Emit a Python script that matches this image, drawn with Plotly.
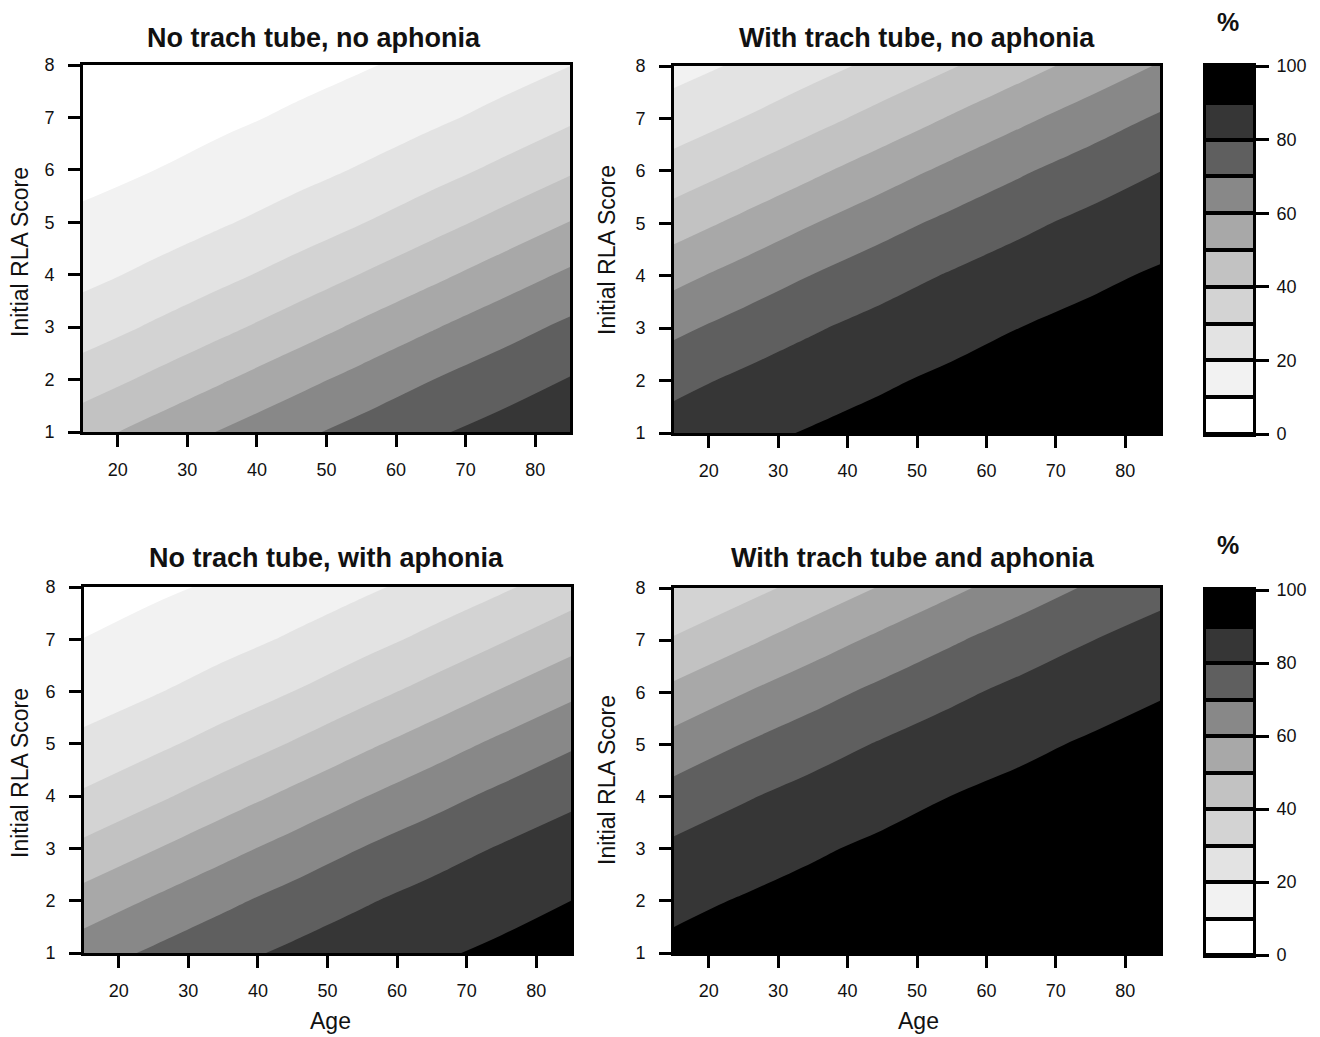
import plotly.graph_objects as go

# Axes grid (age in years, initial RLA score)
ages = [15, 25, 35, 45, 55, 65, 75, 85]
rla = [1, 2, 3, 4, 5, 6, 7, 8]

pct_no_trach_no_aphonia = [
    [46.3, 53.6, 60.7, 67.4, 73.4, 78.7, 83.2, 86.9],
    [35.0, 41.9, 49.1, 56.3, 63.3, 69.8, 75.5, 80.5],
    [25.2, 31.1, 37.6, 44.6, 51.9, 59.1, 65.9, 72.1],
    [17.4, 22.0, 27.4, 33.5, 40.3, 47.4, 54.7, 61.7],
    [11.6, 15.0, 19.1, 23.9, 29.6, 36.0, 43.0, 50.2],
    [7.6, 9.9, 12.8, 16.4, 20.8, 26.0, 32.0, 38.7],
    [4.9, 6.4, 8.4, 11.0, 14.1, 18.0, 22.7, 28.3],
    [3.1, 4.1, 5.4, 7.1, 9.3, 12.1, 15.5, 19.8],
]
pct_trach_no_aphonia = [
    [84.4, 87.9, 90.7, 92.9, 94.5, 95.9, 96.9, 97.6],
    [77.2, 81.9, 85.8, 89.0, 91.6, 93.6, 95.1, 96.3],
    [67.9, 73.9, 79.1, 83.5, 87.2, 90.1, 92.4, 94.2],
    [57.0, 63.9, 70.3, 76.0, 80.9, 85.0, 88.4, 91.0],
    [45.3, 52.5, 59.7, 66.5, 72.6, 78.0, 82.6, 86.4],
    [34.1, 40.9, 48.1, 55.3, 62.4, 68.9, 74.8, 79.9],
    [24.4, 30.2, 36.6, 43.6, 50.9, 58.1, 64.9, 71.3],
    [16.8, 21.3, 26.6, 32.6, 39.3, 46.4, 53.7, 60.8],
]
pct_no_trach_aphonia = [
    [65.3, 71.5, 77.1, 81.8, 85.7, 88.9, 91.5, 93.5],
    [54.0, 61.1, 67.8, 73.8, 79.0, 83.4, 87.1, 90.0],
    [42.3, 49.5, 56.8, 63.7, 70.2, 75.9, 80.8, 84.9],
    [31.4, 38.0, 45.1, 52.3, 59.5, 66.3, 72.4, 77.9],
    [22.3, 27.7, 33.9, 40.7, 47.9, 55.1, 62.2, 68.7],
    [15.2, 19.3, 24.3, 30.0, 36.5, 43.4, 50.7, 57.9],
    [10.1, 13.0, 16.7, 21.1, 26.4, 32.4, 39.1, 46.2],
    [6.5, 8.6, 11.1, 14.4, 18.3, 23.1, 28.6, 34.9],
]
pct_trach_aphonia = [
    [92.1, 93.9, 95.4, 96.5, 97.4, 98.0, 98.5, 98.9],
    [87.9, 90.6, 92.8, 94.5, 95.9, 96.9, 97.6, 98.2],
    [81.9, 85.8, 89.0, 91.6, 93.6, 95.1, 96.3, 97.2],
    [73.9, 79.1, 83.5, 87.1, 90.1, 92.4, 94.2, 95.6],
    [63.9, 70.3, 76.0, 80.9, 85.0, 88.3, 91.0, 93.1],
    [52.5, 59.7, 66.4, 72.6, 78.0, 82.6, 86.4, 89.4],
    [40.9, 48.0, 55.3, 62.3, 68.9, 74.8, 79.8, 84.1],
    [30.2, 36.6, 43.6, 50.8, 58.0, 64.9, 71.2, 76.8],
]

titles = ["No trach tube, no aphonia", "With trach tube, no aphonia",
          "No trach tube, with aphonia", "With trach tube and aphonia"]
x_ticks = [20, 30, 40, 50, 60, 70, 80]
scale_ticks = [0, 20, 40, 60, 80, 100]
band_mids = [5, 15, 25, 35, 45, 55, 65, 75, 85, 95]
band_colors = ["#ffffff", "#f2f2f2", "#e3e3e3", "#d3d3d3", "#c2c2c2",
               "#a8a8a8", "#888888", "#5f5f5f", "#363636", "#000000"]

grids = [pct_no_trach_no_aphonia, pct_trach_no_aphonia, pct_no_trach_aphonia, pct_trach_aphonia]

W, H = 1320, 1037
def fx(p): return p / W
def fy(p): return 1 - p / H

cs = [[k / 9, band_colors[k]] for k in range(10)]
FONT = "Liberation Sans, Arial, sans-serif"

fig = go.Figure()
boxes = [((83, 570), (65, 432)), ((674, 1160), (66, 433)),
         ((84, 571), (587, 953)), ((674, 1160), (588, 953))]
for i, g in enumerate(grids):
    n = "" if i == 0 else str(i + 1)
    fig.add_trace(go.Contour(x=ages, y=rla, z=g, xaxis="x" + n, yaxis="y" + n,
                             colorscale=cs, autocontour=False,
                             contours=dict(start=10, end=90, size=10, coloring="fill", showlines=False),
                             line=dict(width=0), showscale=False, hoverinfo="skip"))
    (x0, x1), (y0, y1) = boxes[i]
    common = dict(showline=True, linewidth=3, linecolor="black", mirror=True, ticks="outside",
                  ticklen=12, tickwidth=2.5, tickcolor="black", showgrid=False, zeroline=False,
                  automargin=False, tickfont=dict(family=FONT, size=18, color="#111"))
    fig.layout["xaxis" + n] = dict(domain=[fx(x0), fx(x1)], range=[15, 85], anchor="y" + n,
                                   tickvals=x_ticks, ticklabelstandoff=7, **common)
    fig.layout["yaxis" + n] = dict(domain=[fy(y1), fy(y0)], range=[1, 8], anchor="x" + n,
                                   tickvals=rla, ticklabelstandoff=10, **common)

cbs = [((1206, 1253), (66, 434)), ((1206, 1253), (590, 955))]
for j, ((x0, x1), (y0, y1)) in enumerate(cbs):
    n = str(5 + j)
    fig.add_trace(go.Heatmap(x=[0], y=band_mids, z=[[m] for m in band_mids], colorscale=cs,
                             zmin=5, zmax=95, showscale=False, ygap=4,
                             xaxis="x" + n, yaxis="y" + n, hoverinfo="skip"))
    fig.layout["xaxis" + n] = dict(domain=[fx(x0), fx(x1)], range=[-0.5, 0.5], anchor="y" + n,
                                   showticklabels=False, ticks="", showline=True, linewidth=3,
                                   linecolor="black", mirror=True, showgrid=False, zeroline=False,
                                   automargin=False)
    fig.layout["yaxis" + n] = dict(domain=[fy(y1), fy(y0)], range=[0, 100], anchor="x" + n, side="right",
                                   tickvals=scale_ticks, ticks="outside", ticklen=13,
                                   tickwidth=2.5, tickcolor="black", showline=True, linewidth=3,
                                   linecolor="black", mirror=True, showgrid=False, zeroline=False,
                                   automargin=False, ticklabelstandoff=4,
                                   tickfont=dict(family=FONT, size=18, color="#111"))

ann = []
for t, (cx, cy) in zip(titles, [(314, 38), (917, 38), (326, 558), (913, 558)]):
    ann.append(dict(text="<b>" + t + "</b>", x=fx(cx), y=fy(cy), font=dict(size=27)))
for cy in [22, 545]:
    ann.append(dict(text="<b>%</b>", x=fx(1228), y=fy(cy), font=dict(size=25)))
for cx, cy in [(20, 252), (607, 250), (20, 773), (607, 780)]:
    ann.append(dict(text="Initial RLA Score", x=fx(cx), y=fy(cy), textangle=-90, font=dict(size=23)))
for cx in [330, 918]:
    ann.append(dict(text="Age", x=fx(cx), y=fy(1021), font=dict(size=23)))
for a in ann:
    a.update(xref="paper", yref="paper", showarrow=False, xanchor="center", yanchor="middle")
    a["font"].update(family=FONT, color="#111")

fig.update_layout(width=W, height=H, margin=dict(l=0, r=0, t=0, b=0, autoexpand=False),
                  paper_bgcolor="white", plot_bgcolor="black", annotations=ann, showlegend=False)
fig.write_html("out.html", config={"displayModeBar": False},
               post_script="document.body.style.margin='0px';")
